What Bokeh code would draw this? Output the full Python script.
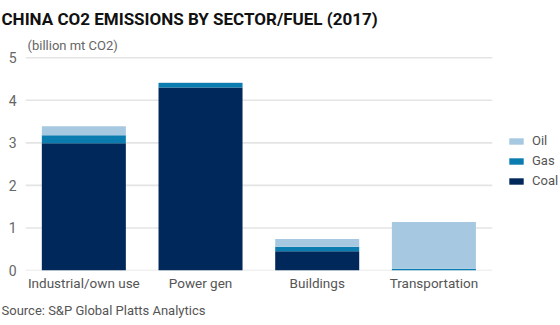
from bokeh.plotting import figure
from bokeh.models import Range1d, Title, Legend, LegendItem, FixedTicker
from bokeh.embed import file_html
from bokeh.resources import INLINE

sectors = ["Industrial/own use", "Power gen", "Buildings", "Transportation"]
fuels = ["Coal", "Gas", "Oil"]
coal = [2.99, 4.30, 0.45, 0.0]
gas = [0.19, 0.11, 0.11, 0.04]
oil = [0.21, 0.01, 0.18, 1.10]
yticks = [0, 1, 2, 3, 4, 5]
colors = ["#00285a", "#0a7cb0", "#a6c8e0"]

FONT = "Roboto"

n = len(sectors)
xpos = [i + 0.5 for i in range(n)]

p = figure(x_range=Range1d(0, n + 0.585),
           y_range=Range1d(0, 5.03),
           width=560, height=325, title=None,
           min_border_left=25, min_border_right=0,
           min_border_top=56, min_border_bottom=55,
           output_backend="svg", toolbar_location=None)
p.outline_line_color = None
p.background_fill_color = "white"
p.border_fill_color = "white"

# grid lines spanning only the category area
p.xgrid.visible = False
p.ygrid.visible = False
p.segment(x0=[0] * len(yticks), x1=[n] * len(yticks), y0=yticks, y1=yticks,
          line_color="#e4e4e4", line_width=1.6)

src = dict(x=xpos, Coal=coal, Gas=gas, Oil=oil)
rs = p.vbar_stack(fuels, x="x", width=0.72, source=src,
                  fill_color=colors, line_color=None)

p.yaxis.ticker = FixedTicker(ticks=yticks)
p.yaxis.axis_line_color = None
p.yaxis.major_tick_line_color = None
p.yaxis.minor_tick_line_color = None
p.yaxis.major_tick_out = 0
p.yaxis.major_tick_in = 0
p.yaxis.minor_tick_out = 0
p.yaxis.major_label_standoff = 9
p.yaxis.major_label_text_font = FONT
p.yaxis.major_label_text_font_size = "14px"
p.yaxis.major_label_text_color = "#666666"

p.xaxis.ticker = FixedTicker(ticks=xpos)
p.xaxis.major_label_overrides = {x: s for x, s in zip(xpos, sectors)}
p.xaxis.axis_line_color = None
p.xaxis.major_tick_line_color = None
p.xaxis.minor_tick_line_color = None
p.xaxis.major_tick_out = 0
p.xaxis.major_tick_in = 0
p.xaxis.minor_tick_out = 0
p.xaxis.major_label_standoff = 4
p.xaxis.major_label_text_font = FONT
p.xaxis.major_label_text_font_size = "13.5px"
p.xaxis.major_label_text_color = "#555555"

legend = Legend(items=[LegendItem(label=f, renderers=[r]) for f, r in zip(reversed(fuels), reversed(rs))],
                location=(482, 81), orientation="vertical",
                glyph_width=18, glyph_height=8, label_standoff=7,
                label_height=17, spacing=3, padding=0, margin=0,
                border_line_color=None, background_fill_alpha=0,
                label_text_font=FONT, label_text_font_size="13px",
                label_text_color="#555555")
p.add_layout(legend, "center")

p.add_layout(Title(text="(billion mt CO2)", align="left", offset=2, standoff=8,
                   text_font=FONT, text_font_style="normal", text_font_size="13px",
                   text_color="#666666"), "above")
p.add_layout(Title(text="CHINA CO2 EMISSIONS BY SECTOR/FUEL (2017)", align="left", offset=-24, standoff=6,
                   text_font=FONT, text_font_style="bold", text_font_size="17px",
                   text_color="#111111"), "above")
p.add_layout(Title(text="Source: S&P Global Platts Analytics", align="left", offset=-24, standoff=14,
                   text_font=FONT, text_font_style="normal", text_font_size="13px",
                   text_color="#555555"), "below")

open("out.html", "w").write(file_html(p, INLINE))
